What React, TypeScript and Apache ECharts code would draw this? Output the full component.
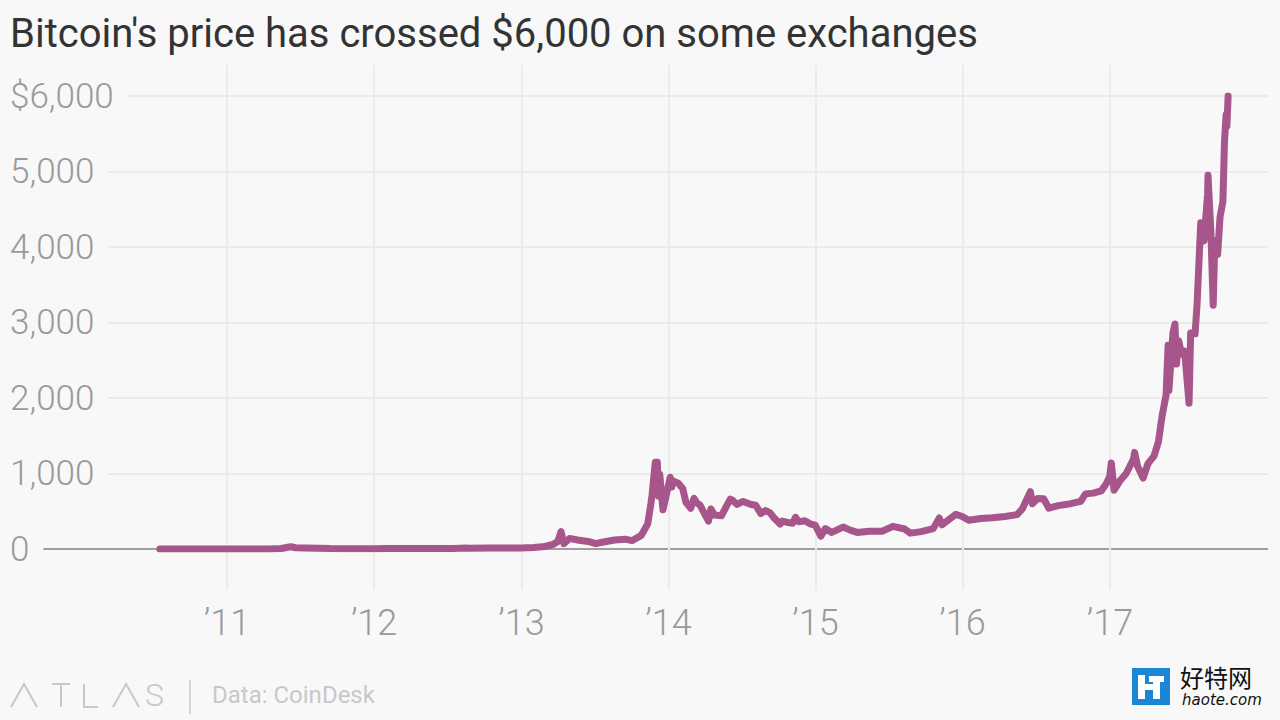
import React, { useEffect, useRef } from "react";
import * as echarts from "echarts";

const TITLE = "Bitcoin's price has crossed $6,000 on some exchanges";
const SOURCE = "Data: CoinDesk";

const dates: string[] = [
  "2010-07-18", "2010-10-01", "2010-11-07", "2010-12-31", "2011-02-10", "2011-04-15",
  "2011-05-15", "2011-06-08", "2011-06-20", "2011-07-15", "2011-08-15", "2011-09-15",
  "2011-10-20", "2011-11-18", "2011-12-31", "2012-02-01", "2012-03-15", "2012-05-15",
  "2012-07-15", "2012-08-17", "2012-08-20", "2012-10-15", "2012-12-31", "2013-01-31",
  "2013-02-28", "2013-03-20", "2013-04-01", "2013-04-09", "2013-04-16", "2013-04-30",
  "2013-05-20", "2013-06-15", "2013-07-05", "2013-07-20", "2013-08-20", "2013-09-15",
  "2013-10-02", "2013-10-25", "2013-11-10", "2013-11-18", "2013-11-21", "2013-11-29",
  "2013-12-04", "2013-12-07", "2013-12-10", "2013-12-18", "2013-12-24", "2014-01-05",
  "2014-01-09", "2014-01-12", "2014-01-25", "2014-02-05", "2014-02-13", "2014-02-25",
  "2014-03-05", "2014-03-12", "2014-03-20", "2014-04-02", "2014-04-10", "2014-04-16",
  "2014-04-25", "2014-05-12", "2014-05-25", "2014-06-03", "2014-06-10", "2014-06-20",
  "2014-07-05", "2014-07-25", "2014-08-05", "2014-08-18", "2014-08-30", "2014-09-10",
  "2014-09-20", "2014-10-05", "2014-10-10", "2014-10-25", "2014-11-05", "2014-11-12",
  "2014-11-20", "2014-12-05", "2014-12-20", "2014-12-31", "2015-01-14", "2015-01-25",
  "2015-02-10", "2015-03-10", "2015-03-28", "2015-04-14", "2015-05-15", "2015-06-15",
  "2015-07-12", "2015-08-10", "2015-08-24", "2015-09-20", "2015-10-20", "2015-11-04",
  "2015-11-11", "2015-12-15", "2015-12-31", "2016-01-16", "2016-02-15", "2016-03-15",
  "2016-04-15", "2016-05-15", "2016-05-28", "2016-06-17", "2016-06-22", "2016-07-05",
  "2016-07-20", "2016-08-02", "2016-08-25", "2016-09-25", "2016-10-20", "2016-11-01",
  "2016-11-20", "2016-12-10", "2016-12-22", "2016-12-31", "2017-01-04", "2017-01-11",
  "2017-01-25", "2017-02-10", "2017-02-28", "2017-03-03", "2017-03-10", "2017-03-24",
  "2017-04-05", "2017-04-20", "2017-05-01", "2017-05-10", "2017-05-20", "2017-05-25",
  "2017-05-27", "2017-06-06", "2017-06-11", "2017-06-15", "2017-06-20", "2017-06-28",
  "2017-07-05", "2017-07-16", "2017-07-20", "2017-07-31", "2017-08-05", "2017-08-14",
  "2017-08-22", "2017-08-31", "2017-09-01", "2017-09-08", "2017-09-14", "2017-09-18",
  "2017-09-25", "2017-10-01", "2017-10-08", "2017-10-12", "2017-10-16", "2017-10-18",
  "2017-10-21",
];

const prices: number[] = [
  0.09, 0.06, 0.35, 0.3, 1.0, 1.0,
  7, 30, 17, 14, 11, 5,
  2.5, 2.2, 4.7, 6, 5, 5,
  8, 13, 9, 12, 13.5, 20,
  33, 60, 100, 230, 70, 140,
  120, 100, 70, 90, 120, 130,
  110, 180, 330, 600, 720, 1150,
  1150, 700, 990, 520, 660, 950,
  820, 900, 870, 800, 620, 540,
  670, 610, 580, 450, 370, 530,
  450, 440, 570, 660, 640, 590,
  630, 590, 580, 470, 510, 480,
  410, 330, 370, 350, 340, 420,
  360, 375, 330, 315, 170, 270,
  220, 290, 250, 220, 235, 235,
  300, 265, 210, 230, 270, 410,
  320, 460, 430, 380, 405, 415,
  430, 455, 530, 760, 600, 670,
  665, 540, 575, 600, 630, 730,
  740, 770, 860, 960, 1140, 780,
  900, 1000, 1190, 1280, 1100, 940,
  1130, 1230, 1420, 1760, 2040, 2700,
  2100, 2860, 2980, 2450, 2760, 2580,
  2620, 1930, 2860, 2850, 3250, 4320,
  4080, 4700, 4950, 4230, 3230, 4080,
  3900, 4400, 4600, 5400, 5750, 5600,
  6000,
];

const yTicks: number[] = [0, 1000, 2000, 3000, 4000, 5000, 6000];
const yTickLabels: string[] = ["0", "1,000", "2,000", "3,000", "4,000", "5,000", "$6,000"];

// full plot range (data grid) and gridline-only range (no 2010 / 2018 lines)
const X_MIN = "2009-07-11";
const X_MAX = "2018-01-28";
const XG_MIN = "2010-02-01";
const XG_MAX = "2017-12-01";
const YEAR_MS = 365 * 24 * 3600 * 1000;

const BG = "#f8f8f8";
const LINE = "#a6568a";
const GRID = "#ebebeb";
const LABEL = "#9a9a9a";
const FOOT = "#c8c8c8";
const AXIS_FONT = "Roboto";

export default function App() {
  const ref = useRef<HTMLDivElement>(null);

  useEffect(() => {
    if (!ref.current) return;
    const chart = echarts.init(ref.current, null, { renderer: "svg" });
    const data = dates.map((d, i) => [d, prices[i]]);

    const option: any = {
      animation: false,
      backgroundColor: BG,
      title: {
        text: TITLE,
        left: 5,
        top: 8,
        textStyle: {
          fontFamily: "Roboto",
          fontWeight: 400,
          fontSize: 40,
          color: "#333333",
        },
      },
      grid: [
        { left: 92.5, right: 35.5, top: 65, bottom: 130 },
        { left: 10, right: 12, top: 96, bottom: 171 },
      ],
      xAxis: [
        {
          type: "time",
          gridIndex: 0,
          min: XG_MIN,
          max: XG_MAX,
          minInterval: YEAR_MS,
          maxInterval: YEAR_MS + 2 * 24 * 3600 * 1000,
          splitNumber: 8,
          axisLine: { show: false },
          axisTick: { show: false },
          splitLine: {
            show: true,
            showMinLine: false,
            showMaxLine: false,
            lineStyle: { color: GRID, width: 2 },
          },
          axisLabel: {
            show: true,
            margin: 15,
            fontFamily: AXIS_FONT,
            fontWeight: 300,
            fontSize: 36,
            color: LABEL,
            showMinLabel: false,
            showMaxLabel: false,
            formatter: (v: number) => "\u2019" + String(new Date(v).getFullYear()).slice(2),
          },
        },
        {
          type: "time",
          gridIndex: 1,
          min: X_MIN,
          max: X_MAX,
          axisLine: { show: false },
          axisTick: { show: false },
          axisLabel: { show: false },
          splitLine: { show: false },
        },
      ],
      yAxis: [
        { type: "value", gridIndex: 0, min: 0, max: 1, show: false, splitLine: { show: false } },
        {
          type: "value",
          gridIndex: 1,
          min: 0,
          max: 6000,
          interval: 1000,
          axisLine: { show: false },
          axisTick: { show: false },
          splitLine: {
            show: true,
            lineStyle: { color: ["#9e9e9e", GRID, GRID, GRID, GRID, GRID, GRID], width: 2 },
          },
          axisLabel: {
            inside: true,
            margin: 0,
            fontFamily: AXIS_FONT,
            fontWeight: 300,
            fontSize: 35,
            color: LABEL,
            backgroundColor: BG,
            padding: [0, 14, 0, 0],
            formatter: (v: number) => {
              const i = yTicks.indexOf(v);
              return i >= 0 ? yTickLabels[i] : "";
            },
          },
        },
      ],
      series: [
        {
          type: "line",
          xAxisIndex: 1,
          yAxisIndex: 1,
          data,
          showSymbol: false,
          symbol: "none",
          lineStyle: { color: LINE, width: 7, join: "round", cap: "round" },
          z: 5,
        },
      ],
      graphic: [
        // ATLAS logo
        { type: "polyline", shape: { points: [[11, 707], [24, 684], [37, 707]] }, style: { stroke: FOOT, lineWidth: 2, fill: null } },
        { type: "polyline", shape: { points: [[52, 684], [70, 684]] }, style: { stroke: FOOT, lineWidth: 2, fill: null } },
        { type: "polyline", shape: { points: [[61, 684], [61, 707]] }, style: { stroke: FOOT, lineWidth: 2, fill: null } },
        { type: "polyline", shape: { points: [[84, 684], [84, 707], [98, 707]] }, style: { stroke: FOOT, lineWidth: 2, fill: null } },
        { type: "polyline", shape: { points: [[113, 707], [126, 684], [139, 707]] }, style: { stroke: FOOT, lineWidth: 2, fill: null } },
        { type: "text", x: 145, y: 695, style: { text: "S", font: "300 32px Roboto", fill: FOOT, verticalAlign: "middle" } },
        { type: "line", shape: { x1: 190, y1: 680, x2: 190, y2: 714 }, style: { stroke: FOOT, lineWidth: 1.5 } },
        { type: "text", x: 212, y: 695, style: { text: SOURCE, font: "400 24px Roboto", fill: FOOT, verticalAlign: "middle" } },
        // watermark
        { type: "rect", shape: { x: 1132, y: 668, width: 38, height: 37 }, style: { fill: "#1c86d6" } },
        { type: "rect", shape: { x: 1138, y: 675, width: 7, height: 24 }, style: { fill: "#ffffff" } },
        { type: "rect", shape: { x: 1145, y: 684, width: 8, height: 6 }, style: { fill: "#ffffff" } },
        { type: "rect", shape: { x: 1149, y: 676, width: 15, height: 6 }, style: { fill: "#ffffff" } },
        { type: "rect", shape: { x: 1153, y: 682, width: 7, height: 17 }, style: { fill: "#ffffff" } },
        { type: "text", x: 1180, y: 676, style: { text: "好特网", font: "400 24px 'Noto Sans CJK SC'", lineHeight: 24, fill: "#111111", verticalAlign: "middle" } },
        { type: "text", x: 1182, y: 700, style: { text: "haote.com", font: "italic 400 15px 'DejaVu Sans'", lineHeight: 15, fill: "#111111", verticalAlign: "middle" } },
      ],
    };

    chart.setOption(option);
    return () => chart.dispose();
  }, []);

  return (
    <div
      ref={ref}
      style={{ position: "fixed", left: 0, top: 0, width: 1280, height: 720, background: BG }}
    />
  );
}
